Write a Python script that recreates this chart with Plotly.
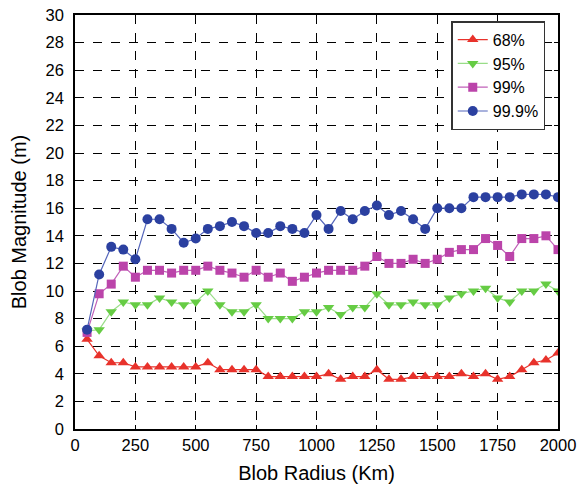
import plotly.graph_objects as go

radius = [50, 100, 150, 200, 250, 300, 350, 400, 450, 500, 550, 600, 650, 700, 750, 800,
          850, 900, 950, 1000, 1050, 1100, 1150, 1200, 1250, 1300, 1350, 1400, 1450, 1500,
          1550, 1600, 1650, 1700, 1750, 1800, 1850, 1900, 1950, 2000]

p68 = [6.5, 5.3, 4.8, 4.8, 4.5, 4.5, 4.5, 4.5, 4.5, 4.5, 4.8, 4.3, 4.3, 4.3, 4.3, 3.8,
       3.8, 3.8, 3.8, 3.8, 4.0, 3.6, 3.8, 3.8, 4.3, 3.6, 3.6, 3.8, 3.8, 3.8,
       3.8, 4.0, 3.8, 4.0, 3.6, 3.8, 4.3, 4.8, 5.0, 5.5]

p95 = [7.1, 7.2, 8.5, 9.2, 9.0, 9.0, 9.5, 9.2, 9.0, 9.2, 10.0, 9.0, 8.5, 8.5, 9.0, 8.0,
       8.0, 8.0, 8.5, 8.5, 8.8, 8.3, 8.8, 8.8, 9.8, 9.0, 9.0, 9.2, 9.0, 9.0,
       9.5, 9.8, 10.0, 10.2, 9.5, 9.2, 10.0, 10.0, 10.5, 10.0]

p99 = [7.0, 9.8, 10.5, 11.8, 11.0, 11.5, 11.5, 11.3, 11.5, 11.5, 11.8, 11.5, 11.3, 11.0, 11.5, 11.0,
       11.3, 10.7, 11.0, 11.3, 11.5, 11.5, 11.5, 11.8, 12.5, 12.0, 12.0, 12.3, 12.0, 12.3,
       12.8, 13.0, 13.0, 13.8, 13.3, 12.5, 13.8, 13.8, 14.0, 13.0]

p999 = [7.2, 11.2, 13.2, 13.0, 12.3, 15.2, 15.2, 14.5, 13.5, 13.8, 14.5, 14.7, 15.0, 14.7, 14.2, 14.2,
        14.7, 14.5, 14.2, 15.5, 14.5, 15.8, 15.2, 15.8, 16.2, 15.5, 15.8, 15.2, 14.5, 16.0,
        16.0, 16.0, 16.8, 16.8, 16.8, 16.8, 17.0, 17.0, 17.0, 16.8]

x_ticks = [0, 250, 500, 750, 1000, 1250, 1500, 1750, 2000]
y_ticks = list(range(0, 31, 2))

series = [
    ("68%", p68, "triangle-up", "#e8322b", "#e8322b", 10),
    ("95%", p95, "triangle-down", "#66cc44", "#99dd88", 10),
    ("99%", p99, "square", "#bb44aa", "#c060b8", 9),
    ("99.9%", p999, "circle", "#2b40a0", "#5566bb", 10),
]

fig = go.Figure()
for name, vals, sym, mcol, lcol, msize in series:
    fig.add_trace(go.Scatter(
        x=radius, y=vals, name=name, mode="lines+markers",
        line=dict(color=lcol, width=1.2),
        marker=dict(symbol=sym, size=msize, color=mcol, line=dict(width=0)),
    ))

font_family = "Liberation Sans, Arial, sans-serif"
axis_common = dict(
    showline=True, linecolor="black", linewidth=1.5, mirror="ticks",
    ticks="inside", ticklen=4, tickcolor="black", tickwidth=1,
    showgrid=True, gridcolor="black", gridwidth=0.8, griddash="dash",
    zeroline=False, automargin=False,
    tickfont=dict(size=16.5, color="black", family=font_family),
)

fig.update_layout(
    width=582, height=484,
    margin=dict(l=75, r=24, t=15, b=55),
    paper_bgcolor="white", plot_bgcolor="white",
    font=dict(family=font_family, color="black"),
    showlegend=True,
    legend=dict(
        x=0.779, y=0.985, xanchor="left", yanchor="top",
        bgcolor="white", bordercolor="#333333", borderwidth=1.5,
        font=dict(size=16, color="black", family=font_family),
        tracegroupgap=0, itemsizing="trace",
    ),
    xaxis=dict(
        range=[0, 2000], tickvals=x_ticks, ticktext=[str(v) for v in x_ticks],
        title=dict(text="Blob Radius (Km)", font=dict(size=20, family=font_family), standoff=14),
        **axis_common,
    ),
    yaxis=dict(
        range=[0, 30], tickvals=y_ticks, ticktext=[str(v) for v in y_ticks],
        ticklabelstandoff=6,
        title=dict(text="Blob Magnitude (m)", font=dict(size=20, family=font_family), standoff=14),
        **axis_common,
    ),
)

fig.write_html("out.html")
